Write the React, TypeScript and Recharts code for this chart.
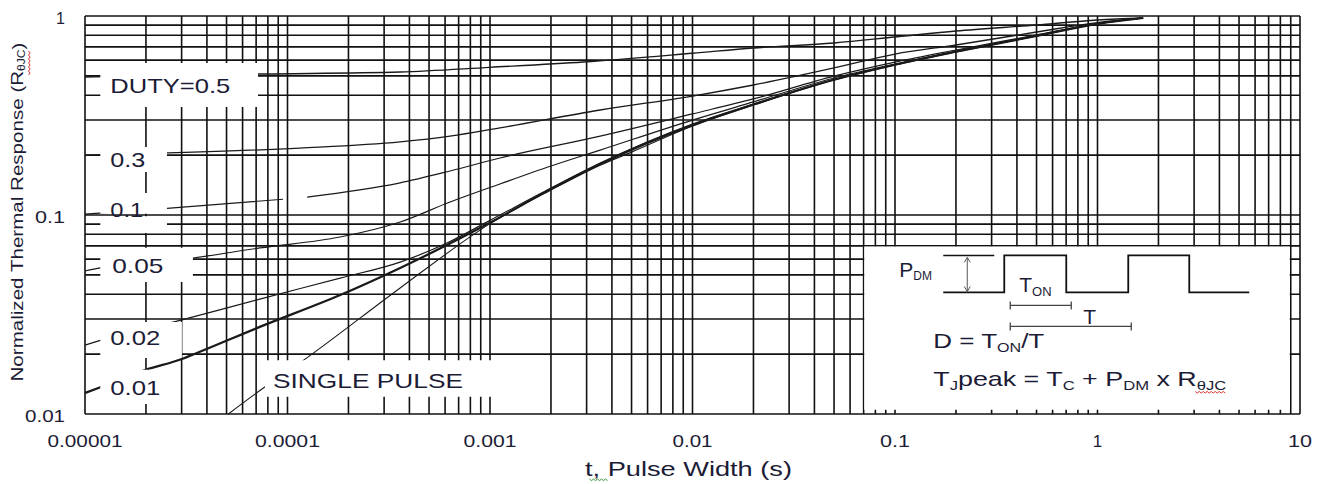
import React from "react";
import {
  LineChart,
  Line,
  XAxis,
  YAxis,
  CartesianGrid,
  ReferenceArea,
  Label,
} from "recharts";

const FONT = "'Liberation Sans', Arial, Helvetica, sans-serif";
const INK = "#1c1c36";

// axis decades and their printed labels
const xDecades = [1e-5, 1e-4, 1e-3, 1e-2, 0.1, 1, 10];
const xDecadeLabels = ["0.00001", "0.0001", "0.001", "0.01", "0.1", "1", "10"];
const yDecades = [0.01, 0.1, 1];
const yDecadeLabels = ["0.01", "0.1", "1"];
const mantissas = [1, 2, 3, 4, 5, 6, 7, 8, 9];

// readings: [pulse width (s), normalized Zth]
const duty05 = [
  [1e-5, 0.494], [2e-5, 0.5], [7.2e-5, 0.511], [3.6e-4, 0.523], [1e-3, 0.552],
  [2.9e-3, 0.587], [1e-2, 0.65], [2e-2, 0.691], [5e-2, 0.732], [0.1, 0.784],
  [0.2, 0.841], [0.5, 0.901], [1.0, 0.955], [1.68, 0.977],
];
const duty03 = [
  [1e-5, 0.2], [2.54e-5, 0.205], [1.15e-4, 0.217], [3.6e-4, 0.233], [6.35e-4, 0.249],
  [1.12e-3, 0.274], [3.5e-3, 0.337], [1e-2, 0.396], [2e-2, 0.45], [5e-2, 0.548],
  [0.1, 0.644], [0.2, 0.715], [0.5, 0.831], [1.0, 0.927], [1.68, 0.977],
];
const duty01 = [
  [1e-5, 0.101], [2.54e-5, 0.108], [9.5e-5, 0.12], [1.1e-4, null], [1.25e-4, 0.123],
  [3.6e-4, 0.145], [6.35e-4, 0.1664], [1.12e-3, 0.1934], [3.5e-3, 0.249], [1e-2, 0.322],
  [2e-2, 0.383], [5e-2, 0.499], [0.1, 0.587], [0.2, 0.675], [0.5, 0.803],
  [1.0, 0.917], [1.68, 0.977],
];
const duty005 = [
  [1e-5, 0.0523], [1.19e-5, 0.0542], [3.41e-5, 0.0608], [7.3e-5, 0.0683],
  [1.82e-4, 0.0775], [3.6e-4, 0.0922], [6.35e-4, 0.1162], [1.12e-3, 0.1432],
  [2e-3, 0.1763], [3.5e-3, 0.212], [1e-2, 0.3], [2e-2, 0.37], [5e-2, 0.488],
  [0.1, 0.574], [0.2, 0.667], [0.5, 0.798], [1.0, 0.915], [1.68, 0.977],
];
const duty002 = [
  [1e-5, 0.0222], [1.2e-5, 0.0235], [3.01e-5, 0.0297], [7.3e-5, 0.0378],
  [1.82e-4, 0.0482], [3.6e-4, 0.058], [6.13e-4, 0.0723], [1e-3, 0.094],
  [2e-3, 0.1367], [3.5e-3, 0.1825], [1e-2, 0.2867], [2e-2, 0.361], [5e-2, 0.48],
  [0.1, 0.571], [0.2, 0.663], [0.5, 0.795], [1.0, 0.914], [1.68, 0.977],
];
const duty001 = [
  [1e-5, 0.01275], [1.2e-5, 0.01367], [1.98e-5, 0.01664], [3.01e-5, 0.0189],
  [3.38e-5, 0.0198], [7.3e-5, 0.0274], [1.82e-4, 0.0396], [3.6e-4, 0.0542],
  [8.63e-4, 0.0845], [1e-3, 0.0915], [2e-3, 0.135], [3.5e-3, 0.1804], [1e-2, 0.283],
  [2e-2, 0.359], [5e-2, 0.478], [0.1, 0.569], [0.2, 0.661], [0.5, 0.794],
  [1.0, 0.913], [1.68, 0.977],
];
const singlePulse = [
  [5.1e-5, 0.01], [7.6e-5, 0.0135], [1.11e-4, 0.0176], [3.6e-4, 0.043],
  [8.63e-4, 0.082], [1e-3, 0.0905], [2e-3, 0.1335], [3.5e-3, 0.178], [5e-3, 0.207],
  [1e-2, 0.28], [2e-2, 0.357], [5e-2, 0.477], [0.1, 0.567], [0.2, 0.659],
  [0.5, 0.793], [1.0, 0.912], [1.68, 0.977],
];

const xTicks = [...xDecades.slice(0, -1).flatMap((d) => mantissas.map((m) => m * d)), 10];
const yTicks = [...yDecades.slice(0, -1).flatMap((d) => mantissas.map((m) => m * d)), 1];

const toPoints = (rows: (number | null)[][]) => rows.map(([x, y]) => ({ x, y }));

const curves = [
  { name: "0.5", rows: duty05, width: 1.4 },
  { name: "0.3", rows: duty03, width: 1.3 },
  { name: "0.1", rows: duty01, width: 1.2 },
  { name: "0.05", rows: duty005, width: 1.2 },
  { name: "0.02", rows: duty002, width: 1.2 },
  { name: "0.01", rows: duty001, width: 2.2 },
  { name: "single", rows: singlePulse, width: 1.1 },
];

// white boxes behind the curve captions (data coords) + text placement inside them
const labelBoxes = [
  { x1: 1.19e-5, x2: 7.15e-5, y1: 0.349, y2: 0.58, text: "DUTY=0.5", dx: 10, dy: 30, w: 120 },
  { x1: 1.19e-5, x2: 2.54e-5, y1: 0.1645, y2: 0.2196, text: "0.3", dx: 10, dy: 20, w: 35 },
  { x1: 1.19e-5, x2: 2.54e-5, y1: 0.0812, y2: 0.0985, text: "", dx: 0, dy: 0, w: 0 },
  { x1: 1.19e-5, x2: 2.54e-5, y1: 0.1015, y2: 0.129, text: "0.1", dx: 10, dy: 24, w: 33 },
  { x1: 1.19e-5, x2: 3.41e-5, y1: 0.046, y2: 0.0684, text: "0.05", dx: 12, dy: 25, w: 51 },
  { x1: 1.19e-5, x2: 3.01e-5, y1: 0.0191, y2: 0.029, text: "0.02", dx: 10, dy: 23, w: 50 },
  { x1: 1.19e-5, x2: 2.95e-5, y1: 0.01124, y2: 0.01668, text: "0.01", dx: 10, dy: 25, w: 50 },
  { x1: 7.74e-5, x2: 1.08e-3, y1: 0.0122, y2: 0.0186, text: "SINGLE PULSE", dx: 8, dy: 28, w: 190 },
];

const xLabelWidth = [75, 65, 53, 40, 30, 0, 24];
const yLabelWidth = [40, 30, 0];

const decadeIndex = (list: number[], v: number) =>
  list.findIndex((d) => Math.abs(v / d - 1) < 1e-6);

// little spell-check squiggle seen under some subscripts in the source image
const squiggle = (x0: number, y0: number, len: number, color: string) => {
  let d = `M${x0},${y0}`;
  for (let i = 1; i * 2 <= len; i++) d += ` L${x0 + i * 2},${y0 + (i % 2 ? 1.6 : 0)}`;
  return <path d={d} fill="none" stroke={color} strokeWidth={1} />;
};

const XTick = (p: any) => {
  const i = decadeIndex(xDecades, p.payload.value);
  if (i < 0) return <g />;
  const w = xLabelWidth[i];
  return (
    <text
      x={p.x}
      y={p.y + 25}
      textAnchor="middle"
      fontSize={17}
      fontFamily={FONT}
      fill={INK}
      {...(w ? { textLength: w, lengthAdjust: "spacingAndGlyphs" } : {})}
    >
      {xDecadeLabels[i]}
    </text>
  );
};

const YTick = (p: any) => {
  const i = decadeIndex(yDecades, p.payload.value);
  if (i < 0) return <g />;
  const w = yLabelWidth[i];
  return (
    <text
      x={p.x - 12}
      y={p.y + 8}
      textAnchor="end"
      fontSize={16}
      fontFamily={FONT}
      fill={INK}
      {...(w ? { textLength: w, lengthAdjust: "spacingAndGlyphs" } : {})}
    >
      {yDecadeLabels[i]}
    </text>
  );
};

const boxCaption = (b: (typeof labelBoxes)[number]) => (p: any) => {
  const vb = p.viewBox;
  if (!b.text || !vb) return null;
  return (
    <text
      x={vb.x + b.dx}
      y={vb.y + b.dy}
      fontSize={21}
      fontFamily={FONT}
      fill={INK}
      textLength={b.w}
      lengthAdjust="spacingAndGlyphs"
    >
      {b.text}
    </text>
  );
};

const XTitle = (p: any) => {
  const { x, y, width } = p.viewBox;
  const cx = x + width / 2 - 4;
  const by = y + 62;
  return (
    <g>
      <text
        x={cx}
        y={by}
        textAnchor="middle"
        fontSize={21}
        fontFamily={FONT}
        fill={INK}
        textLength={207}
        lengthAdjust="spacingAndGlyphs"
      >
        t, Pulse Width (s)
      </text>
      {squiggle(cx - 99, by + 3, 18, "#3a9a3a")}
    </g>
  );
};

const YTitle = (p: any) => {
  const { x, y } = p.viewBox;
  const cx = x + 9.5;
  const cy = y + 196;
  return (
    <g transform={`rotate(-90 ${cx} ${cy})`}>
      <text
        x={cx}
        y={cy}
        textAnchor="middle"
        dominantBaseline="central"
        fontSize={17}
        fontFamily={FONT}
        fill={INK}
        textLength={339}
        lengthAdjust="spacingAndGlyphs"
      >
        Normalized Thermal Response (R
        <tspan fontSize={10} dy={3}>θJC</tspan>
        <tspan dy={-3}>)</tspan>
      </text>
      {squiggle(cx + 137, cy + 11, 24, "#e03030")}
    </g>
  );
};

// pulse-train explanation drawn inside the lower-right box
const InsetDiagram = (p: any) => {
  const vb = p.viewBox;
  if (!vb) return null;
  const ox = vb.x;
  const oy = vb.y;
  const wave = [
    [79, 46], [140, 46], [140, 9], [202, 9], [202, 46], [264, 46],
    [264, 9], [325, 9], [325, 46], [385, 46],
  ];
  const pts = wave.map(([a, b]) => `${ox + a},${oy + b}`).join(" ");
  const txt = { fontFamily: FONT, fill: INK, fontSize: 21 } as const;
  const dim = (x1: number, x2: number, yy: number) => (
    <g stroke="#444" strokeWidth={1.3}>
      <line x1={ox + x1} x2={ox + x2} y1={oy + yy} y2={oy + yy} />
      <line x1={ox + x1} x2={ox + x1} y1={oy + yy - 4} y2={oy + yy + 4} />
      <line x1={ox + x2} x2={ox + x2} y1={oy + yy - 4} y2={oy + yy + 4} />
    </g>
  );
  return (
    <g>
      <polyline points={pts} fill="none" stroke="#111" strokeWidth={1.8} />
      <line x1={ox + 79} x2={ox + 130} y1={oy + 9} y2={oy + 9} stroke="#111" strokeWidth={1.6} />
      <g stroke="#555" strokeWidth={1} fill="none">
        <line x1={ox + 103} x2={ox + 103} y1={oy + 11} y2={oy + 45} />
        <polyline points={`${ox + 100},${oy + 16} ${ox + 103},${oy + 11} ${ox + 106},${oy + 16}`} />
        <polyline points={`${ox + 100},${oy + 40} ${ox + 103},${oy + 45} ${ox + 106},${oy + 40}`} />
      </g>
      {dim(146, 207, 59)}
      {dim(146, 267, 80)}
      <text x={ox + 35} y={oy + 31} {...txt}>
        P<tspan fontSize={12} dy={3}>DM</tspan>
      </text>
      <text x={ox + 155} y={oy + 46} {...txt}>
        T<tspan fontSize={13} dy={4}>ON</tspan>
      </text>
      <text x={ox + 219} y={oy + 78} {...txt}>T</text>
      <text x={ox + 69} y={oy + 102} {...txt} textLength={111} lengthAdjust="spacingAndGlyphs">
        D = T<tspan fontSize={13} dy={4}>ON</tspan>
        <tspan dy={-4}>/T</tspan>
      </text>
      <text x={ox + 69} y={oy + 140} {...txt} textLength={293} lengthAdjust="spacingAndGlyphs">
        T<tspan fontSize={13} dy={4}>J</tspan>
        <tspan dy={-4}>peak = T</tspan>
        <tspan fontSize={13} dy={4}>C</tspan>
        <tspan dy={-4}> + P</tspan>
        <tspan fontSize={13} dy={4}>DM</tspan>
        <tspan dy={-4}> x R</tspan>
        <tspan fontSize={13} dy={4}>θJC</tspan>
      </text>
      {squiggle(ox + 331, oy + 145, 30, "#e03030")}
    </g>
  );
};

export default function App() {
  return (
    <div style={{ position: "absolute", left: 0, top: 0, background: "#fff" }}>
      <LineChart
        width={1323}
        height={484}
        margin={{ top: 16, right: 23, bottom: 40, left: 8 }}
      >
        <CartesianGrid stroke="#111" strokeWidth={1.6} />
        <XAxis
          type="number"
          dataKey="x"
          scale="log"
          domain={[1e-5, 10]}
          ticks={xTicks}
          interval={0}
          tick={<XTick />}
          tickLine={false}
          axisLine={false}
          height={30}
        >
          <Label content={XTitle} />
        </XAxis>
        <YAxis
          type="number"
          scale="log"
          domain={[0.01, 1]}
          ticks={yTicks}
          interval={0}
          tick={<YTick />}
          tickLine={false}
          axisLine={false}
          width={77}
        >
          <Label content={YTitle} />
        </YAxis>
        {curves.map((c) => (
          <Line
            key={c.name}
            data={toPoints(c.rows)}
            dataKey="y"
            type="monotone"
            stroke="#1a1a1a"
            strokeWidth={c.width}
            dot={false}
            activeDot={false}
            isAnimationActive={false}
          />
        ))}
        {labelBoxes.map((b, i) => (
          <ReferenceArea
            key={i}
            x1={b.x1}
            x2={b.x2}
            y1={b.y1}
            y2={b.y2}
            fill="#fff"
            fillOpacity={1}
            stroke="none"
            zIndex={1500}
            label={boxCaption(b)}
          />
        ))}
        <ReferenceArea
          x1={0.0705}
          x2={8.9}
          y1={0.0105}
          y2={0.0695}
          fill="#fff"
          fillOpacity={1}
          stroke="none"
          zIndex={1500}
          label={InsetDiagram}
        />
      </LineChart>
    </div>
  );
}
